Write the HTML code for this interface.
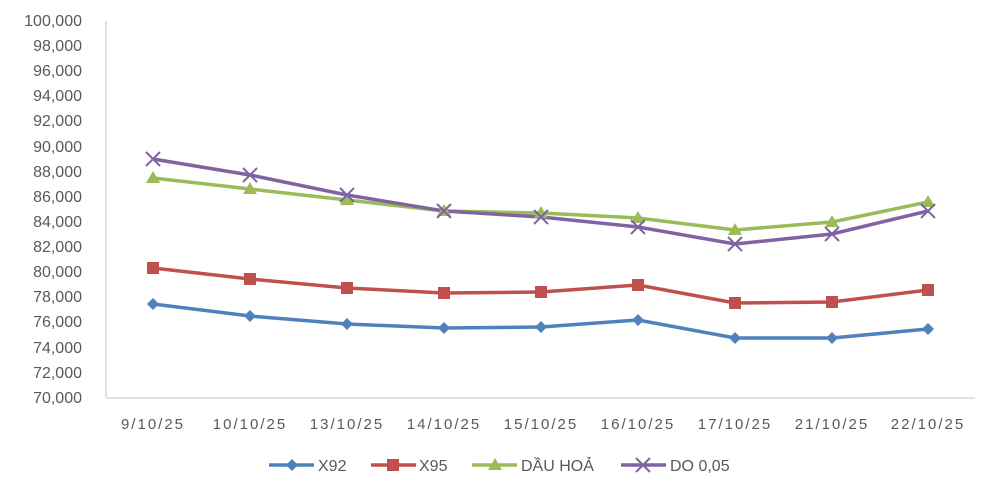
<!DOCTYPE html>
<html><head><meta charset="utf-8"><style>
body{margin:0;background:#fff;}
svg text{font-family:"Liberation Sans",sans-serif;fill:#595959;}
</style></head><body>
<svg width="1000" height="494" viewBox="0 0 1000 494" xmlns="http://www.w3.org/2000/svg">
<line x1="106" y1="21" x2="106" y2="398" stroke="#d9d9d9" stroke-width="1.5"/>
<line x1="106" y1="398" x2="975" y2="398" stroke="#d9d9d9" stroke-width="1.5"/>
<g font-size="16" text-anchor="end">
<text x="82" y="26">100,000</text><text x="82" y="51">98,000</text><text x="82" y="76">96,000</text><text x="82" y="101">94,000</text><text x="82" y="126">92,000</text><text x="82" y="152">90,000</text><text x="82" y="177">88,000</text><text x="82" y="202">86,000</text><text x="82" y="227">84,000</text><text x="82" y="252">82,000</text><text x="82" y="277">80,000</text><text x="82" y="302">78,000</text><text x="82" y="327">76,000</text><text x="82" y="353">74,000</text><text x="82" y="378">72,000</text><text x="82" y="403">70,000</text>
</g>
<g font-size="15" text-anchor="middle" letter-spacing="2">
<text x="153" y="429">9/10/25</text><text x="250" y="429">10/10/25</text><text x="347" y="429">13/10/25</text><text x="444" y="429">14/10/25</text><text x="541" y="429">15/10/25</text><text x="638" y="429">16/10/25</text><text x="735" y="429">17/10/25</text><text x="832" y="429">21/10/25</text><text x="928" y="429">22/10/25</text>
</g>
<defs>
<path id="dm" d="M0,-6 L6,0 L0,6 L-6,0Z" fill="#4F81BD"/>
<rect id="sq" x="-6" y="-6" width="12" height="12" fill="#C0504D"/>
<path id="tr" d="M0,-7 L7,5 L-7,5Z" fill="#9BBB59"/>
<path id="xx" d="M-7,-7 L7,7 M-7,7 L7,-7" stroke="#8064A2" stroke-width="2"/>
</defs>
<polyline fill="none" stroke="#4F81BD" stroke-width="3.5" points="153,304 250,316 347,324 444,328 541,327 638,320 735,338 832,338 928,329"/>
<polyline fill="none" stroke="#C0504D" stroke-width="3.5" points="153,268 250,279 347,288 444,293 541,292 638,285 735,303 832,302 928,290"/>
<polyline fill="none" stroke="#9BBB59" stroke-width="3.5" points="153,178 250,189 347,200 444,211 541,213 638,218 735,230 832,222 928,202"/>
<polyline fill="none" stroke="#8064A2" stroke-width="3.5" points="153,159 250,175 347,195 444,211 541,217 638,227 735,244 832,234 928,211"/>
<g>
<use href="#dm" x="153" y="304"/><use href="#dm" x="250" y="316"/><use href="#dm" x="347" y="324"/><use href="#dm" x="444" y="328"/><use href="#dm" x="541" y="327"/><use href="#dm" x="638" y="320"/><use href="#dm" x="735" y="338"/><use href="#dm" x="832" y="338"/><use href="#dm" x="928" y="329"/>
<use href="#sq" x="153" y="268"/><use href="#sq" x="250" y="279"/><use href="#sq" x="347" y="288"/><use href="#sq" x="444" y="293"/><use href="#sq" x="541" y="292"/><use href="#sq" x="638" y="285"/><use href="#sq" x="735" y="303"/><use href="#sq" x="832" y="302"/><use href="#sq" x="928" y="290"/>
<use href="#tr" x="153" y="178"/><use href="#tr" x="250" y="189"/><use href="#tr" x="347" y="200"/><use href="#tr" x="444" y="211"/><use href="#tr" x="541" y="213"/><use href="#tr" x="638" y="218"/><use href="#tr" x="735" y="230"/><use href="#tr" x="832" y="222"/><use href="#tr" x="928" y="202"/>
<use href="#xx" x="153" y="159"/><use href="#xx" x="250" y="175"/><use href="#xx" x="347" y="195"/><use href="#xx" x="444" y="211"/><use href="#xx" x="541" y="217"/><use href="#xx" x="638" y="227"/><use href="#xx" x="735" y="244"/><use href="#xx" x="832" y="234"/><use href="#xx" x="928" y="211"/>
</g>
<g font-size="16">
<line x1="269" y1="465" x2="314" y2="465" stroke="#4F81BD" stroke-width="3.5"/><use href="#dm" x="292" y="465"/><text x="318" y="471">X92</text>
<line x1="371" y1="465" x2="416" y2="465" stroke="#C0504D" stroke-width="3.5"/><use href="#sq" x="393" y="465"/><text x="419" y="471">X95</text>
<line x1="472" y1="465" x2="517" y2="465" stroke="#9BBB59" stroke-width="3.5"/><use href="#tr" x="495" y="465"/><text x="521" y="471">DẦU HOẢ</text>
<line x1="621" y1="465" x2="666" y2="465" stroke="#8064A2" stroke-width="3.5"/><use href="#xx" x="643" y="465"/><text x="670" y="471">DO 0,05</text>
</g>
</svg>
</body></html>
